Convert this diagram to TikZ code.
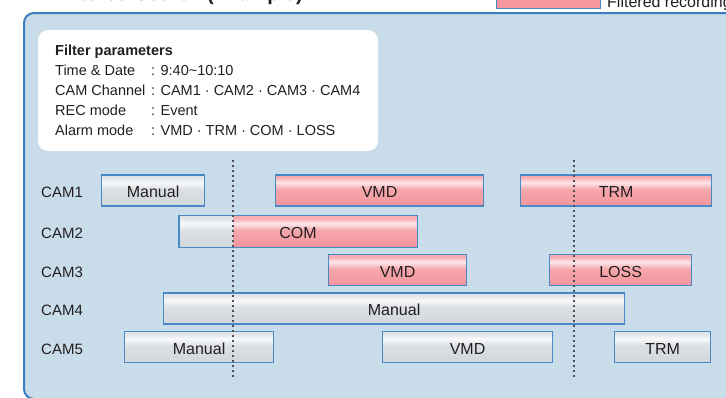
\documentclass[tikz,border=0pt]{standalone}
\usepackage{fontspec}
\setmainfont{Liberation Sans}
\usetikzlibrary{positioning}

\definecolor{panelblue}{HTML}{C9DCEA}
\definecolor{frameblue}{HTML}{3B7DC0}
\definecolor{barblue}{HTML}{4A87C6}
\definecolor{inkgrey}{HTML}{231F20}
\definecolor{dotgrey}{HTML}{4A4E54}
\definecolor{greyB}{HTML}{D2D7DC}
\definecolor{greyM}{HTML}{DCE0E4}
\definecolor{greyH}{HTML}{F8F9FA}
\definecolor{greyT}{HTML}{E1E4E7}
\definecolor{pinkB}{HTML}{F4959C}
\definecolor{pinkM}{HTML}{F6A7AC}
\definecolor{pinkH}{HTML}{FDE7E9}
\definecolor{pinkT}{HTML}{F6AEB3}
\definecolor{legpink}{HTML}{F5979D}

\pgfdeclareverticalshading{recshade}{100bp}{color(0bp)=(greyB); color(25bp)=(greyB); color(52bp)=(greyM); color(63bp)=(greyH); color(71bp)=(greyT); color(75bp)=(greyT); color(100bp)=(greyT)}
\pgfdeclareverticalshading{hitshade}{100bp}{color(0bp)=(pinkB); color(25bp)=(pinkB); color(52bp)=(pinkM); color(63bp)=(pinkH); color(71bp)=(pinkT); color(75bp)=(pinkT); color(100bp)=(pinkT)}

\begin{document}
\begin{tikzpicture}[
    x=1pt, y=-1pt,
    every node/.style = {text=inkgrey},
        panel/.style = {draw=frameblue, line width=2pt, fill=panelblue, rounded corners=10pt},
     parambox/.style = {fill=white, rounded corners=10pt},
       ptext/.style = {anchor=base west, inner sep=0pt, font=\fontsize{14.5}{17}\selectfont},
      camlbl/.style = {anchor=west, inner sep=0pt, text height=14.6pt, text depth=0pt,
                       font=\fontsize{15}{18}\selectfont},
         bar/.style = {rectangle, anchor=west, inner sep=0pt, minimum height=31pt,
                       text height=14.6pt, text depth=0pt, font=\fontsize{16}{19}\selectfont},
         rec/.style = {bar, draw=barblue, line width=1.2pt, shading=recshade},
         hit/.style = {bar, draw=barblue, line width=1.2pt, shading=hitshade},
     cutline/.style = {dotgrey, line width=1.5pt, dash pattern=on 2pt off 3pt}
                        ]
\useasboundingbox (0,0) rectangle (726,397);
% title and legend (cut at the top edge)
\node (title) [anchor=base west, inner sep=0pt, font=\bfseries\fontsize{20}{24}\selectfont]
      at (57,0.5) {Filtered Search (Example)};
\node (leg) [draw=barblue, line width=1pt, fill=legpink, minimum width=104pt, minimum height=22pt,
      inner sep=0pt, anchor=south west] at (496,8.5) {};
\node (legtxt) [anchor=base west, inner sep=0pt, font=\fontsize{16}{19}\selectfont]
      at (607,7.5) {Filtered recordings};
% panel
\draw[panel] (24,13) rectangle (780,399);
\fill[parambox] (38,30) rectangle (378,151);
\node (ptitle) [ptext, font=\bfseries\fontsize{14.5}{17}\selectfont] at (55,55.5) {Filter parameters};
\node (p1) [ptext] at (55,75.3)  {Time \& Date};
\node (p2) [ptext] at (55,95.3)  {CAM Channel};
\node (p3) [ptext] at (55,115.1) {REC mode};
\node (p4) [ptext] at (55,135)   {Alarm mode};
\node (v1) [ptext] at (151,75.3)  {: 9:40\textasciitilde 10:10};
\node (v2) [ptext] at (151,95.3)  {: CAM1 · CAM2 · CAM3 · CAM4};
\node (v3) [ptext] at (151,115.1) {: Event};
\node (v4) [ptext] at (151,135)   {: VMD · TRM · COM · LOSS};
% channels
\node (cam1) [camlbl] at (41,190.5) {CAM1};
\node (cam2) [camlbl] at (41,231.5) {CAM2};
\node (cam3) [camlbl] at (41,270)   {CAM3};
\node (cam4) [camlbl] at (41,308.5) {CAM4};
\node (cam5) [camlbl] at (41,347)   {CAM5};
% records
\node (c1man) [rec, minimum width=103pt] at (101,190.5) {Manual};
\node (c1vmd) [hit, minimum width=208pt] at (275,190.5) {VMD};
\node (c1trm) [hit, minimum width=191pt] at (520,190.5) {TRM};
\node (c2pre) [bar, shading=recshade, minimum width=54pt] at (179,231.5) {};
\node (c2com) [bar, shading=hitshade, minimum width=184pt, right=0pt of c2pre] {};
\draw[barblue, line width=1.2pt] (c2pre.north west) rectangle (c2com.south east);
\node (c2lbl) [bar, minimum height=0pt, anchor=center] at (298,231.5) {COM};
\node (c3vmd) [hit, minimum width=138pt] at (328,270) {VMD};
\node (c3loss) [hit, minimum width=142pt] at (549,270) {LOSS};
\node (c4man) [rec, minimum width=461pt] at (163,308.5) {Manual};
\node (c5man) [rec, minimum width=149pt] at (124,347) {Manual};
\node (c5vmd) [rec, minimum width=170pt] at (382,347) {VMD};
\node (c5trm) [rec, minimum width=96pt]  at (614,347) {TRM};
% search window
\draw[cutline] (233,160) -- (233,377);
\draw[cutline] (574,160) -- (574,377);
\end{tikzpicture}
\end{document}
